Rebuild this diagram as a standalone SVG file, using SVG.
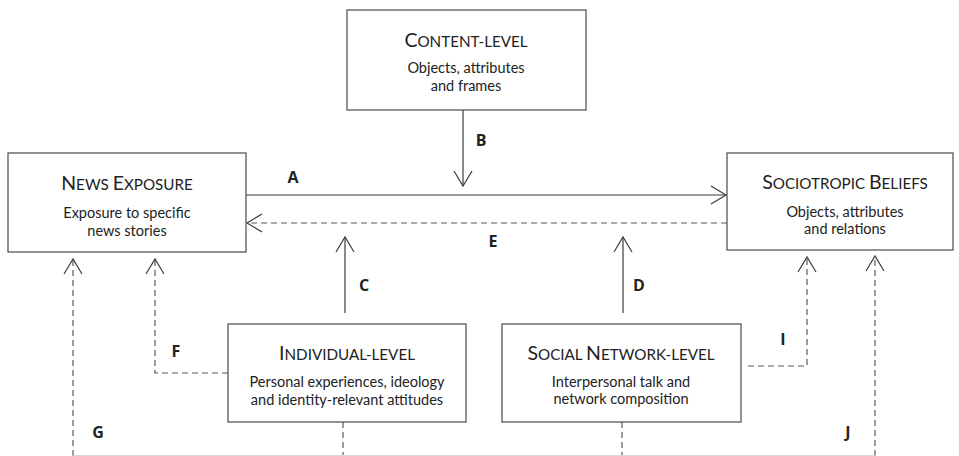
<svg xmlns="http://www.w3.org/2000/svg" width="959" height="456" viewBox="0 0 959 456">
<style>
.box{fill:#fff;stroke:#4a4a4a;stroke-width:1.2}
.t{font-family:Lato,"Open Sans","Liberation Sans",sans-serif;fill:#222;text-anchor:middle}
.big{font-size:19.5px}
.sc{font-size:15.2px}
.sub{font-size:14.5px}
.lbl{font-family:"Open Sans","Liberation Sans",sans-serif;font-weight:bold;font-size:16px;fill:#222;text-anchor:middle}
.ln{fill:none;stroke:#3c3c3c;stroke-width:1.2}
.dash{fill:none;stroke:#5a5a5a;stroke-width:1.2;stroke-dasharray:6 4}
</style>
<defs>
<marker id="open" viewBox="-16 -10 18 20" refX="0" refY="0" markerWidth="18" markerHeight="20" markerUnits="userSpaceOnUse" orient="auto">
<path d="M-15,-9 L0,0 L-15,9" fill="none" stroke="#3c3c3c" stroke-width="1.2"/>
</marker>
</defs>

<g id="connectors">
<path id="B" class="ln" d="M463,110 V186" marker-end="url(#open)"/>
<path id="A" class="ln" d="M246,195 H726" marker-end="url(#open)"/>
<path id="E" class="dash" d="M727,223 H247" marker-end="url(#open)"/>
<path id="C" class="ln" d="M345,313 V237" marker-end="url(#open)"/>
<path id="D" class="ln" d="M623,313 V237" marker-end="url(#open)"/>
<path id="F" class="dash" d="M228,373 H155 V259" marker-end="url(#open)"/>
<path id="G" class="dash" d="M73,456 V259" marker-end="url(#open)"/>
<path id="I" class="dash" d="M748,366 H807 V257" marker-end="url(#open)"/>
<path id="J" class="dash" d="M875,456 V256" marker-end="url(#open)"/>
<path id="Hind" class="dash" d="M343,422 V456"/>
<path id="Hsoc" class="dash" d="M622,422 V456"/>
<path id="bottom" fill="none" stroke="#d8d8d8" stroke-width="1" d="M73,455.5 H875"/>
<text class="lbl" x="293" y="183">A</text>
<text class="lbl" x="481" y="146">B</text>
<text class="lbl" x="364" y="291">C</text>
<text class="lbl" x="639" y="291">D</text>
<text class="lbl" x="493" y="247">E</text>
<text class="lbl" x="176" y="357">F</text>
<text class="lbl" x="98" y="438">G</text>
<text class="lbl" x="783" y="345">I</text>
<text class="lbl" x="848" y="438">J</text>
</g>

<g id="content">
<rect class="box" x="347" y="10" width="239" height="100"/>
<text class="t" x="466" y="47"><tspan class="big">C</tspan><tspan class="sc">ONTENT-LEVEL</tspan></text>
<text class="t sub" x="466" y="73">Objects, attributes</text>
<text class="t sub" x="466" y="91">and frames</text>
</g>

<g id="news">
<rect class="box" x="8" y="153" width="238" height="99"/>
<text class="t" x="127" y="190"><tspan class="big">N</tspan><tspan class="sc">EWS </tspan><tspan class="big">E</tspan><tspan class="sc">XPOSURE</tspan></text>
<text class="t sub" x="127" y="218">Exposure to specific</text>
<text class="t sub" x="127" y="236">news stories</text>
</g>

<g id="sociotropic">
<rect class="box" x="727" y="153" width="226" height="97"/>
<text class="t" x="845" y="189"><tspan class="big">S</tspan><tspan class="sc">OCIOTROPIC </tspan><tspan class="big">B</tspan><tspan class="sc">ELIEFS</tspan></text>
<text class="t sub" x="845" y="217">Objects, attributes</text>
<text class="t sub" x="845" y="234">and relations</text>
</g>

<g id="individual">
<rect class="box" x="228" y="324" width="238" height="98"/>
<text class="t" x="347" y="360"><tspan class="big">I</tspan><tspan class="sc">NDIVIDUAL-LEVEL</tspan></text>
<text class="t sub" x="347" y="387">Personal experiences, ideology</text>
<text class="t sub" x="347" y="405">and identity-relevant attitudes</text>
</g>

<g id="social">
<rect class="box" x="502" y="324" width="239" height="98"/>
<text class="t" x="621" y="360"><tspan class="big">S</tspan><tspan class="sc">OCIAL </tspan><tspan class="big">N</tspan><tspan class="sc">ETWORK-LEVEL</tspan></text>
<text class="t sub" x="621" y="387">Interpersonal talk and</text>
<text class="t sub" x="621" y="404">network composition</text>
</g>
</svg>
